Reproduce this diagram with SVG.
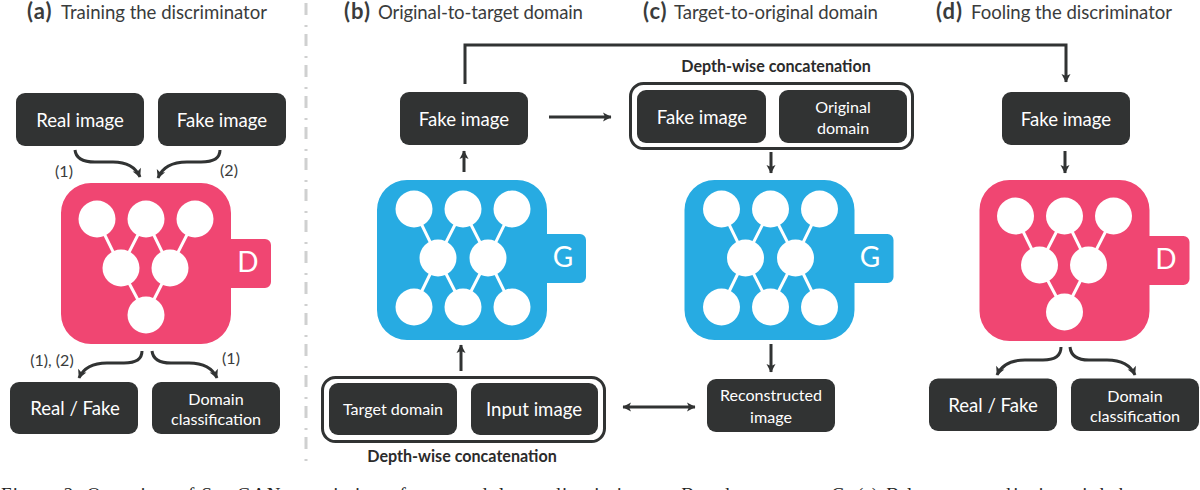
<svg xmlns="http://www.w3.org/2000/svg" width="1200" height="490" viewBox="0 0 1200 490">
<style>
text{font-family:Lato,"Open Sans","Liberation Sans",sans-serif;text-anchor:middle}
.box{fill:#313333}
.bt{fill:#fff;font-size:18.600px}
.bs{fill:#fff;font-size:16.100px}
.h{fill:#3a3c3c;font-size:18.600px;text-anchor:start}
.hb{font-weight:700;font-size:22px;letter-spacing:1px}
.l{fill:#3a3c3c;font-size:16px}
.cap{fill:#2b2b2b;font-weight:700;font-size:16.100px}
.frame{fill:#fff;stroke:#313333;stroke-width:3}
.pink{fill:#F04672}
.blue{fill:#27ABE2}
.c{fill:#fff}
.e{stroke:#fff;stroke-width:3;fill:none}
.lt{fill:#fff;font-size:28px}
.a{fill:none;stroke:#313333;stroke-width:3}
.ah{marker-end:url(#arr)}
.div{fill:none;stroke:#cfd0d0;stroke-width:3;stroke-dasharray:12 10 2 7}
.fig{font-family:"Liberation Serif",serif;font-size:19px;fill:#222;text-anchor:start}
.fi{font-style:italic}
</style>
<defs>
<marker id="arr" markerUnits="userSpaceOnUse" markerWidth="12" markerHeight="12" refX="9" refY="6" orient="auto"><path d="M1 1.500L9.500 6L1 10.500L3 6Z" fill="#313333"/></marker>
<marker id="arrs" markerUnits="userSpaceOnUse" markerWidth="12" markerHeight="12" refX="3" refY="6" orient="auto"><path d="M11 1.500L2.500 6L11 10.500L9 6Z" fill="#313333"/></marker>
<g id="netD"><path class="e" d="M97 219L121 268M146 219L121 268M146 219L170 268M195 219L170 268M121 268L146 315M170 268L146 315"/><circle class="c" cx="97" cy="219" r="18.500"/><circle class="c" cx="146" cy="219" r="18.500"/><circle class="c" cx="195" cy="219" r="18.500"/><circle class="c" cx="121" cy="268" r="18.500"/><circle class="c" cx="170" cy="268" r="18.500"/><circle class="c" cx="146" cy="315" r="18.500"/></g>
<g id="netG"><path class="e" d="M414 209L438 258M463 209L438 258M463 209L488 258M512 209L488 258M438 258L414 307M438 258L463 307M488 258L463 307M488 258L512 307"/><circle class="c" cx="414" cy="209" r="18.500"/><circle class="c" cx="463" cy="209" r="18.500"/><circle class="c" cx="512" cy="209" r="18.500"/><circle class="c" cx="438" cy="258" r="18.500"/><circle class="c" cx="488" cy="258" r="18.500"/><circle class="c" cx="414" cy="307" r="18.500"/><circle class="c" cx="463" cy="307" r="18.500"/><circle class="c" cx="512" cy="307" r="18.500"/></g>
<path id="bodyD" d="M91 183H201A30 30 0 0 1 231 213V239H265A6 6 0 0 1 271 245V282A6 6 0 0 1 265 288H231V314A30 30 0 0 1 201 344H91A30 30 0 0 1 61 314V213A30 30 0 0 1 91 183Z"/>
<path id="bodyG" d="M407 180H517A30 30 0 0 1 547 210V234H580A6 6 0 0 1 586 240V277A6 6 0 0 1 580 283H547V310A30 30 0 0 1 517 340H407A30 30 0 0 1 377 310V210A30 30 0 0 1 407 180Z"/>
</defs>
<path class="div" d="M306 3V465"/>
<text class="h" y="19"><tspan class="hb" x="27">(a)</tspan><tspan x="61" textLength="206">Training the discriminator</tspan></text>
<text class="h" y="19"><tspan class="hb" x="344">(b)</tspan><tspan x="378" textLength="205">Original-to-target domain</tspan></text>
<text class="h" y="19"><tspan class="hb" x="643">(c)</tspan><tspan x="674" textLength="204">Target-to-original domain</tspan></text>
<text class="h" y="19"><tspan class="hb" x="936">(d)</tspan><tspan x="971" textLength="201">Fooling the discriminator</tspan></text>
<g id="connectors">
<path class="a ah" d="M75 150C76 160 85 162 95 162H113C127 162 136 168 140 177"/>
<path class="a ah" d="M220 150C220 160 211 162 201 162H187C172 162 162 168 158 178"/>
<path class="a ah" d="M142 351C142 360 134 363 124 363H107C92 363 83 369 79 378"/>
<path class="a ah" d="M152 351C153 360 161 363 171 363H189C204 363 213 369 217 378"/>
<path class="a ah" d="M1061 347C1061 357 1053 360 1043 360H1025C1010 360 1001 366 997 375"/>
<path class="a ah" d="M1070 347C1071 357 1079 360 1089 360H1107C1122 360 1131 366 1135 375"/>
<path class="a ah" d="M465 84V45H1066V82"/>
<path class="a ah" d="M549 117H611"/>
<path class="a ah" d="M464 172V151"/>
<path class="a ah" d="M461 371V345"/>
<path class="a ah" d="M771 152V173"/>
<path class="a ah" d="M771 344V372"/>
<path class="a ah" d="M1065 151V173"/>
<path class="a" d="M623 407H695" marker-start="url(#arrs)" marker-end="url(#arr)"/>
</g>
<text class="l" x="64" y="177">(1)</text>
<text class="l" x="229" y="176">(2)</text>
<text class="l" x="52" y="366">(1), (2)</text>
<text class="l" x="231" y="364">(1)</text>
<g id="a-real"><rect class="box" x="16" y="93" width="128" height="53" rx="9"/><text class="bt" x="80" y="127">Real image</text></g>
<g id="a-fake"><rect class="box" x="158" y="93" width="128" height="53" rx="9"/><text class="bt" x="222" y="127">Fake image</text></g>
<g id="a-D"><use href="#bodyD" class="pink"/><use href="#netD"/><text class="lt" x="248" y="272">D</text></g>
<g id="a-out1"><rect class="box" x="10" y="382" width="128" height="52" rx="9"/><text class="bt" x="75" y="415">Real / Fake</text></g>
<g id="a-out2"><rect class="box" x="152" y="382" width="128" height="52" rx="9"/><text class="bs" x="216" y="405">Domain</text><text class="bs" x="216" y="425">classification</text></g>
<g id="b-fake"><rect class="box" x="400" y="92" width="128" height="53" rx="9"/><text class="bt" x="464" y="126">Fake image</text></g>
<g id="b-G"><use href="#bodyG" class="blue"/><use href="#netG"/><text class="lt" x="563" y="267">G</text></g>
<g id="b-concat"><rect class="frame" x="322.500" y="377.500" width="282" height="64" rx="13"/><rect class="box" x="329" y="383" width="128" height="52" rx="9"/><text class="bs" x="393" y="415">Target domain</text><rect class="box" x="471" y="383" width="127" height="52" rx="9"/><text class="bt" x="534" y="416">Input image</text></g>
<text class="cap" x="462" y="462">Depth-wise concatenation</text>
<text class="cap" x="776" y="72">Depth-wise concatenation</text>
<g id="c-concat"><rect class="frame" x="630.500" y="83.500" width="282" height="65" rx="13"/><rect class="box" x="637" y="90" width="129" height="53" rx="9"/><text class="bt" x="702" y="124">Fake image</text><rect class="box" x="779" y="90" width="128" height="53" rx="9"/><text class="bs" x="843" y="113">Original</text><text class="bs" x="843" y="134">domain</text></g>
<g id="c-G"><use href="#bodyG" class="blue" x="307.500"/><use href="#netG" x="307.500"/><text class="lt" x="870" y="267">G</text></g>
<g id="c-recon"><rect class="box" x="707" y="379" width="128" height="53" rx="9"/><text class="bs" x="771" y="401">Reconstructed</text><text class="bs" x="771" y="423">image</text></g>
<g id="d-fake"><rect class="box" x="1002" y="92" width="128" height="53" rx="9"/><text class="bt" x="1066" y="126">Fake image</text></g>
<g id="d-D"><use href="#bodyD" class="pink" x="918.500" y="-3"/><use href="#netD" x="918.500" y="-3"/><text class="lt" x="1166" y="269">D</text></g>
<g id="d-out1"><rect class="box" x="929" y="378.500" width="128" height="52.500" rx="9"/><text class="bt" x="993" y="412">Real / Fake</text></g>
<g id="d-out2"><rect class="box" x="1071" y="378.500" width="128" height="52.500" rx="9"/><text class="bs" x="1135" y="402">Domain</text><text class="bs" x="1135" y="422">classification</text></g>
<text class="fig" y="501"><tspan x="1" textLength="666" lengthAdjust="spacing">Figure 2: Overview of StarGAN, consisting of two modules, a discriminator</tspan><tspan class="fi" x="680">D</tspan><tspan x="702" textLength="120">and a generator</tspan><tspan class="fi" x="830">G.</tspan><tspan x="857">(a)</tspan><tspan class="fi" x="885">D</tspan><tspan x="907" textLength="290">learns to distinguish between</tspan></text>
</svg>
